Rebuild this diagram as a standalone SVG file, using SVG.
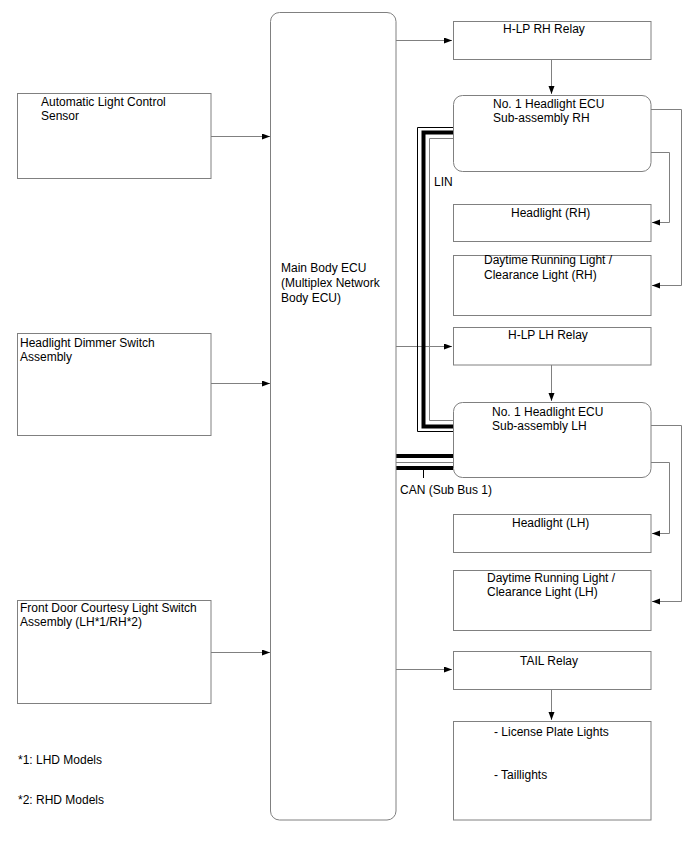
<svg xmlns="http://www.w3.org/2000/svg" width="688" height="852" viewBox="0 0 688 852">
<style>
text{font-family:"Liberation Sans",Arial,sans-serif;font-size:12px;fill:#000}
.box{fill:#fff;stroke:#808080;stroke-width:1}
.ln{fill:none;stroke:#808080;stroke-width:1}
.thin{fill:none;stroke:#000;stroke-width:1}
.thick{fill:none;stroke:#000;stroke-width:4}
.gray{fill:none;stroke:#808080;stroke-width:1}
</style>
<defs>
<marker id="ah" markerUnits="userSpaceOnUse" markerWidth="9" markerHeight="7" refX="8" refY="3" orient="auto">
<path d="M0,0 L8,3 L0,6 z" fill="#000"/>
</marker>
</defs>
<rect width="688" height="852" fill="#fff"/>

<g id="connectors">
<path class="ln" d="M211,136.5 H270" marker-end="url(#ah)"/>
<path class="ln" d="M211,383.5 H270" marker-end="url(#ah)"/>
<path class="ln" d="M211,652.5 H270" marker-end="url(#ah)"/>
<path class="ln" d="M396,40.5 H452" marker-end="url(#ah)"/>
<path class="ln" d="M551.5,59 V94" marker-end="url(#ah)"/>
<path class="ln" d="M651,152.5 H669.5 V222.5 H652" marker-end="url(#ah)"/>
<path class="ln" d="M651,109.5 H681.5 V285.5 H652" marker-end="url(#ah)"/>
<path class="ln" d="M396,346.5 H452" marker-end="url(#ah)"/>
<path class="ln" d="M551.5,365 V401" marker-end="url(#ah)"/>
<path class="ln" d="M651,462.5 H669.5 V533.5 H652" marker-end="url(#ah)"/>
<path class="ln" d="M651,425.5 H681.5 V601.5 H652" marker-end="url(#ah)"/>
<path class="ln" d="M396,669.5 H452" marker-end="url(#ah)"/>
<path class="ln" d="M551.5,689 V720" marker-end="url(#ah)"/>
<!-- LIN bus -->
<path class="thin" d="M453,127.5 H417.5 V431.5 H453"/>
<path class="thick" d="M453,132.5 H423.5 V426.5 H453"/>
<path class="gray" d="M453,138.5 H429.5 V420.5 H453"/>
<!-- CAN bus -->
<path class="thick" d="M396,456 H453"/>
<path class="gray" d="M396,462.5 H453"/>
<path class="thick" d="M396,468 H453"/>
<path class="thin" d="M423.5,470 V478"/>
</g>

<g id="main-body-ecu">
<rect class="box" x="270.5" y="12.5" width="125.5" height="807.5" rx="9"/>
<text x="281" y="272">Main Body ECU</text>
<text x="281" y="287">(Multiplex Network</text>
<text x="281" y="302">Body ECU)</text>
</g>

<g id="auto-light-sensor">
<rect class="box" x="17.5" y="93.5" width="193.5" height="85"/>
<text x="41" y="106">Automatic Light Control</text>
<text x="41" y="120">Sensor</text>
</g>

<g id="dimmer-switch">
<rect class="box" x="17.5" y="333.5" width="193.5" height="102"/>
<text x="20" y="347">Headlight Dimmer Switch</text>
<text x="20" y="361">Assembly</text>
</g>

<g id="courtesy-switch">
<rect class="box" x="17.5" y="600.5" width="193.5" height="103"/>
<text x="20" y="612">Front Door Courtesy Light Switch</text>
<text x="20" y="626">Assembly (LH*1/RH*2)</text>
</g>

<g id="notes">
<text x="18" y="764">*1: LHD Models</text>
<text x="18" y="804">*2: RHD Models</text>
</g>

<g id="hlp-rh-relay">
<rect class="box" x="453.5" y="21.5" width="197.5" height="38"/>
<text x="503" y="33">H-LP RH Relay</text>
</g>

<g id="ecu-rh">
<rect class="box" x="453.5" y="95.5" width="197.5" height="76" rx="9"/>
<text x="493" y="108">No. 1 Headlight ECU</text>
<text x="493" y="122">Sub-assembly RH</text>
</g>

<g id="lin-label">
<text x="434" y="186">LIN</text>
</g>

<g id="headlight-rh">
<rect class="box" x="453.5" y="204.5" width="197.5" height="37"/>
<text x="511" y="217">Headlight (RH)</text>
</g>

<g id="drl-rh">
<rect class="box" x="453.5" y="255.5" width="197.5" height="60"/>
<text x="484" y="264">Daytime Running Light /</text>
<text x="484" y="279">Clearance Light (RH)</text>
</g>

<g id="hlp-lh-relay">
<rect class="box" x="453.5" y="327.5" width="197.5" height="37.5"/>
<text x="508" y="339">H-LP LH Relay</text>
</g>

<g id="ecu-lh">
<rect class="box" x="453.5" y="402.5" width="197.5" height="75" rx="9"/>
<text x="492" y="416">No. 1 Headlight ECU</text>
<text x="492" y="430">Sub-assembly LH</text>
</g>

<g id="can-label">
<text x="400" y="494">CAN (Sub Bus 1)</text>
</g>

<g id="headlight-lh">
<rect class="box" x="453.5" y="514.5" width="197.5" height="38"/>
<text x="512" y="527">Headlight (LH)</text>
</g>

<g id="drl-lh">
<rect class="box" x="453.5" y="570.5" width="197.5" height="60"/>
<text x="487" y="582">Daytime Running Light /</text>
<text x="487" y="596">Clearance Light (LH)</text>
</g>

<g id="tail-relay">
<rect class="box" x="453.5" y="651.5" width="197.5" height="38"/>
<text x="520" y="665">TAIL Relay</text>
</g>

<g id="tail-lights">
<rect class="box" x="453.5" y="721.5" width="197.5" height="98.5"/>
<text x="494" y="736">- License Plate Lights</text>
<text x="494" y="779">- Taillights</text>
</g>
</svg>
